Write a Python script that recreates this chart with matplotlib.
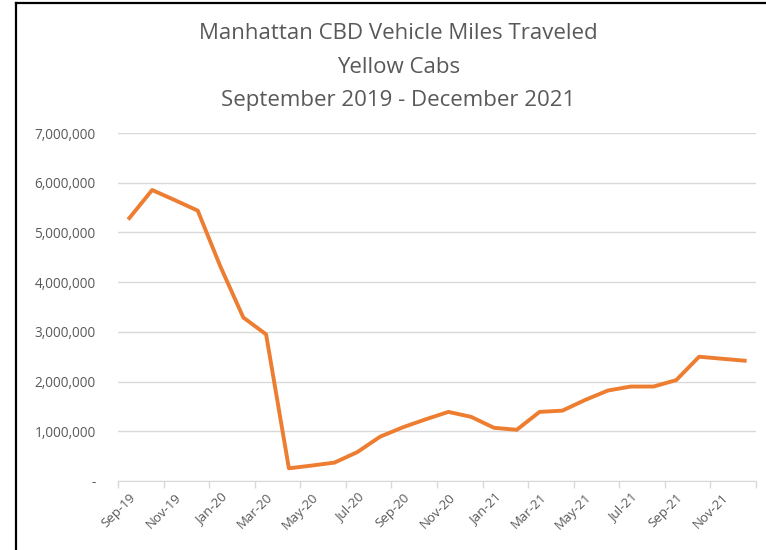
import matplotlib.pyplot as plt
from matplotlib.lines import Line2D
from matplotlib.ticker import FuncFormatter

# monthly VMT, yellow cabs, Manhattan CBD
months = ["Sep-19", "Oct-19", "Nov-19", "Dec-19", "Jan-20", "Feb-20", "Mar-20",
          "Apr-20", "May-20", "Jun-20", "Jul-20", "Aug-20", "Sep-20", "Oct-20",
          "Nov-20", "Dec-20", "Jan-21", "Feb-21", "Mar-21", "Apr-21", "May-21",
          "Jun-21", "Jul-21", "Aug-21", "Sep-21", "Oct-21", "Nov-21", "Dec-21"]
vmt = [5290000, 5855000, 5650000, 5440000, 4310000, 3290000, 2950000,
       255000, 310000, 370000, 580000, 890000, 1080000, 1240000,
       1390000, 1290000, 1070000, 1030000, 1390000, 1415000, 1630000,
       1820000, 1900000, 1900000, 2030000, 2500000, 2460000, 2420000]
title_lines = ["Manhattan CBD Vehicle Miles Traveled", "Yellow Cabs",
               "September 2019 - December 2021"]

plt.rcParams["font.family"] = ["Open Sans", "DejaVu Sans"]
grey = "#595959"

fig = plt.figure(figsize=(7.66, 5.5), dpi=100)
ax = fig.add_axes([0.154, 0.1255, 0.833, 0.6325])

x = [i + 0.5 for i in range(len(months))]
ax.plot(x, vmt, color="#ED7D31", linewidth=2.8, solid_joinstyle="round")

ax.set_xlim(0, len(months))
ax.set_ylim(0, 7000000)
ax.set_yticks(range(0, 7000001, 1000000))
ax.yaxis.set_major_formatter(FuncFormatter(lambda v, p: "-" if v == 0 else f"{int(v):,}"))
ax.grid(axis="y", color="#d9d9d9", linewidth=1)
ax.set_axisbelow(True)

# category labels every other month, tick marks between categories
ax.set_xticks(x[::2])
ax.set_xticklabels(months[::2], rotation=45, ha="right", rotation_mode="anchor")
ax.set_xticks(range(0, len(months) + 1, 2), minor=True)
ax.tick_params(axis="x", which="major", length=0, labelsize=9.5, labelcolor=grey, pad=7)
ax.tick_params(axis="x", which="minor", length=5, color="#d9d9d9", width=1)
ax.tick_params(axis="y", length=0, labelsize=9.8, labelcolor=grey, pad=16)

for side in ["top", "right", "left"]:
    ax.spines[side].set_visible(False)
ax.spines["bottom"].set_color("#d9d9d9")

fig.text(0.52, 0.958, "\n".join(title_lines), ha="center", va="top",
         fontsize=16, color=grey, linespacing=1.78)

# frame around the chart area
fig.add_artist(Line2D([16 / 766, 1], [1 - 3 / 550, 1 - 3 / 550],
                      transform=fig.transFigure, color="black", linewidth=1.6))
fig.add_artist(Line2D([16 / 766, 16 / 766], [0, 1 - 3 / 550],
                      transform=fig.transFigure, color="black", linewidth=1.6))

fig.savefig("out.png", dpi=100)
